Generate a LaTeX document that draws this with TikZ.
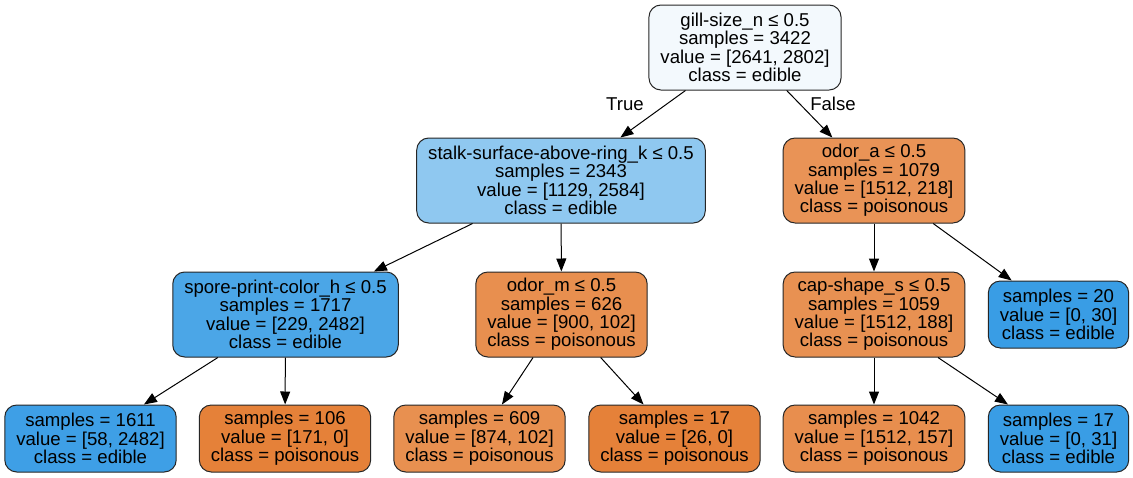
\documentclass[tikz,border=0pt]{standalone}
\usepackage{fontspec}
\setmainfont{Liberation Sans}
\usetikzlibrary{arrows.meta,positioning}
\definecolor{rootc}{RGB}{243,249,253}
\definecolor{stalkc}{RGB}{143,200,240}
\definecolor{sporec}{RGB}{75,166,231}
\definecolor{edibc}{RGB}{57,157,229}
\definecolor{edibd}{RGB}{62,159,230}
\definecolor{poisc}{RGB}{229,129,57}
\definecolor{odorac}{RGB}{233,147,86}
\definecolor{odormc}{RGB}{232,143,79}
\definecolor{capc}{RGB}{232,145,82}
\definecolor{leafpa}{RGB}{232,144,80}
\definecolor{leafpb}{RGB}{232,142,78}
\tikzset{
    treebox/.style={draw=black!85, line width=1pt, rounded corners=12pt,
        align=center, inner xsep=11.5pt, inner ysep=0pt},
    splitbox/.style={treebox, minimum height=85pt},
    leafbox/.style={treebox, minimum height=67pt},
    edge/.style={line width=1pt, -{Triangle[length=13pt,width=10pt]}}
}

\begin{document}
\begin{tikzpicture}[x=1pt, y=-1pt, font=\fontsize{18.6}{18.4}\selectfont]
        % Fix the page size
        \useasboundingbox (0,0) rectangle (1133,477);
        % Draw split nodes
        \node[splitbox, fill=rootc] (root) at (745,47.5) {gill-size\_n ≤ 0.5\\samples = 3422\\value = [2641, 2802]\\class = edible};
        \node[splitbox, fill=stalkc] (stalk) at (561,180.5) {stalk-surface-above-ring\_k ≤ 0.5\\samples = 2343\\value = [1129, 2584]\\class = edible};
        \node[splitbox, fill=odorac] (odora) at (874,180.5) {odor\_a ≤ 0.5\\samples = 1079\\value = [1512, 218]\\class = poisonous};
        \node[splitbox, fill=sporec] (spore) at (285.5,314.5) {spore-print-color\_h ≤ 0.5\\samples = 1717\\value = [229, 2482]\\class = edible};
        \node[splitbox, fill=odormc] (odorm) at (561.5,314.5) {odor\_m ≤ 0.5\\samples = 626\\value = [900, 102]\\class = poisonous};
        \node[splitbox, fill=capc] (cap) at (874,314.5) {cap-shape\_s ≤ 0.5\\samples = 1059\\value = [1512, 188]\\class = poisonous};
        % Draw leaves
        \node[leafbox, fill=edibc] (leafa) at (1058.5,314.5) {samples = 20\\value = [0, 30]\\class = edible};
        \node[leafbox, fill=edibd] (leafb) at (90.5,438.5) {samples = 1611\\value = [58, 2482]\\class = edible};
        \node[leafbox, fill=poisc] (leafc) at (285,438.5) {samples = 106\\value = [171, 0]\\class = poisonous};
        \node[leafbox, fill=leafpa] (leafd) at (479.5,438.5) {samples = 609\\value = [874, 102]\\class = poisonous};
        \node[leafbox, fill=poisc] (leafe) at (674.5,438.5) {samples = 17\\value = [26, 0]\\class = poisonous};
        \node[leafbox, fill=leafpb] (leaff) at (874,438.5) {samples = 1042\\value = [1512, 157]\\class = poisonous};
        \node[leafbox, fill=edibc] (leafg) at (1058.5,438.5) {samples = 17\\value = [0, 31]\\class = edible};
        % Draw edges
        \draw[edge] (root) -- (stalk);
        \draw[edge] (root) -- (odora);
        \draw[edge] (stalk) -- (spore);
        \draw[edge] (stalk) -- (odorm);
        \draw[edge] (odora) -- (cap);
        \draw[edge] (odora) -- (leafa);
        \draw[edge] (spore) -- (leafb);
        \draw[edge] (spore) -- (leafc);
        \draw[edge] (odorm) -- (leafd);
        \draw[edge] (odorm) -- (leafe);
        \draw[edge] (cap) -- (leaff);
        \draw[edge] (cap) -- (leafg);
        % Draw edge labels
        \node (truelbl) at (625,104) {True};
        \node (falselbl) at (833,104) {False};
    \end{tikzpicture}
\end{document}
